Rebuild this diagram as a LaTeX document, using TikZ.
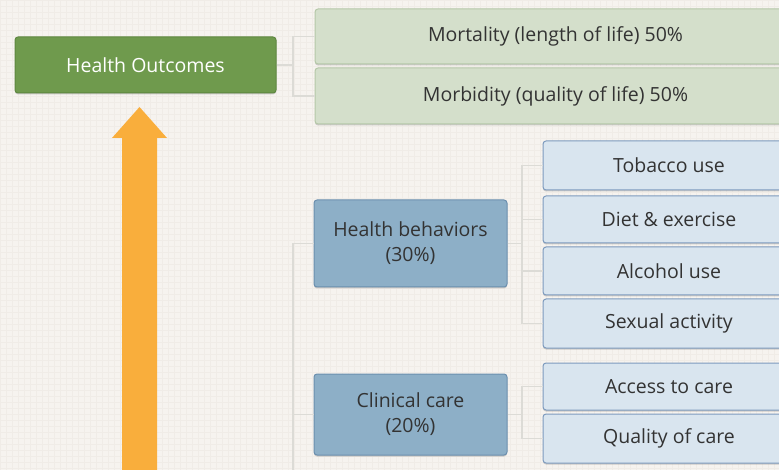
\documentclass[tikz,border=0pt]{standalone}
\usepackage{fontspec}
\setmainfont{Open Sans}
\usetikzlibrary{shadows}
\definecolor{paper}{HTML}{F6F3EF}
\definecolor{paperline}{HTML}{F0ECE7}
\definecolor{leafgreen}{HTML}{6F9A4D}
\definecolor{leafgreenline}{HTML}{5E8740}
\definecolor{palegreen}{HTML}{D4DFCB}
\definecolor{palegreenline}{HTML}{B5C8A8}
\definecolor{steelblue}{HTML}{8DAFC7}
\definecolor{steelblueline}{HTML}{6B8FAE}
\definecolor{paleblue}{HTML}{D9E5EF}
\definecolor{paleblueline}{HTML}{7E9BBE}
\definecolor{arroworange}{HTML}{F9AE3C}
\definecolor{branchgray}{HTML}{DCDBD6}
\definecolor{inkgray}{HTML}{333333}
\begin{document}
\begin{tikzpicture}[x=1pt, y=-1pt,
    box/.style={rounded corners=3pt, line width=1pt, inner sep=0pt, align=center,
      font=\fontsize{19.5}{25}\selectfont, text=inkgray,
      drop shadow={shadow xshift=0pt, shadow yshift=-1.5pt, opacity=.35}},
    outcome/.style={box, fill=leafgreen, draw=leafgreenline, text=white},
    measure/.style={box, fill=palegreen, draw=palegreenline},
    factor/.style={box, fill=steelblue, draw=steelblueline},
    item/.style={box, fill=paleblue, draw=paleblueline},
    branch/.style={draw=branchgray, line width=1.5pt}]
  \useasboundingbox (0,0) rectangle (779,470);
  \fill[paper] (0,0) rectangle (779,470);
  \draw[paperline, line width=.4pt, step=6pt] (0,0) grid (779,470);

  % outcomes
  \node[outcome, minimum width=261pt, minimum height=56pt] (outcomes) at (145.5,65) {Health Outcomes};
  \node[measure, minimum width=481pt, minimum height=55pt] (mortality) at (555.5,36.5) {Mortality (length of life) 50\%};
  \node[measure, minimum width=481pt, minimum height=56pt] (morbidity) at (555.5,96) {Morbidity (quality of life) 50\%};

  % factors
  \node[factor, minimum width=193pt, minimum height=87pt] (behaviors) at (410.5,243.5) {Health behaviors\\(30\%)};
  \node[factor, minimum width=193pt, minimum height=81pt] (clinical) at (410.5,414.5) {Clinical care\\(20\%)};

  % items
  \node[item, minimum width=252pt, minimum height=49pt] (tobacco) at (669,165.5) {Tobacco use};
  \node[item, minimum width=252pt, minimum height=47pt] (diet) at (669,219.5) {Diet \& exercise};
  \node[item, minimum width=252pt, minimum height=48pt] (alcohol) at (669,271) {Alcohol use};
  \node[item, minimum width=252pt, minimum height=49pt] (sexual) at (669,323.5) {Sexual activity};
  \node[item, minimum width=252pt, minimum height=47pt] (access) at (669,386.5) {Access to care};
  \node[item, minimum width=252pt, minimum height=49pt] (quality) at (669,438.5) {Quality of care};

  % branches
  \coordinate (trunkend) at (293,475);
  \draw[branch] (outcomes.east) -- (293,65);
  \draw[branch] (mortality.west) -| (293,65) |- (morbidity.west);
  \draw[branch] (behaviors.west) -| (trunkend);
  \draw[branch] (clinical.west) -- (clinical.west -| trunkend);
  \draw[branch] (behaviors.east) -- (522,243.5);
  \draw[branch] (tobacco.west) -| (522,243.5) |- (sexual.west);
  \draw[branch] (diet.west) -- (diet.west -| 522,0);
  \draw[branch] (alcohol.west) -- (alcohol.west -| 522,0);
  \draw[branch] (clinical.east) -- (522,414.5);
  \draw[branch] (access.west) -| (522,414.5) |- (quality.west);

  % arrow
  \fill[arroworange] (122,475) -- (122,138) -- (112,138) -- (139.5,107)
    -- (167,138) -- (157,138) -- (157,475) -- cycle;
\end{tikzpicture}
\end{document}
